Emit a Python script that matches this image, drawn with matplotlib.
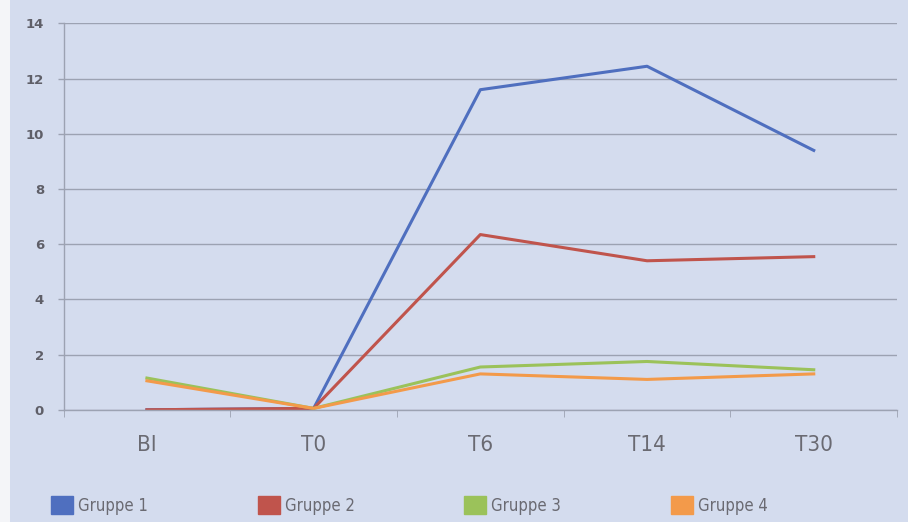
import matplotlib.pyplot as plt
from matplotlib.patches import Patch

# Data
zeitpunkte = ["BI", "T0", "T6", "T14", "T30"]
gruppe_1 = [0.0, 0.05, 11.6, 12.45, 9.4]
gruppe_2 = [0.0, 0.05, 6.35, 5.4, 5.55]
gruppe_3 = [1.15, 0.05, 1.55, 1.75, 1.45]
gruppe_4 = [1.05, 0.05, 1.3, 1.1, 1.3]

serien = [gruppe_1, gruppe_2, gruppe_3, gruppe_4]
namen = ["Gruppe 1", "Gruppe 2", "Gruppe 3", "Gruppe 4"]
farben = ["#4f6fbf", "#c0544c", "#9bc25a", "#f39a4a"]

bg = "#d4dcee"
schrift = {"family": "DejaVu Sans", "stretch": "condensed"}

fig = plt.figure(figsize=(9.08, 5.22), dpi=100)
fig.patch.set_facecolor(bg)
ax = fig.add_axes([0.07, 0.215, 0.918, 0.74])
ax.set_facecolor(bg)

x = list(range(len(zeitpunkte)))
for werte, farbe, name in zip(serien, farben, namen):
    ax.plot(x, werte, color=farbe, linewidth=2.2, label=name)

ax.set_xlim(-0.5, 4.5)
ax.set_ylim(0, 14)
ax.set_yticks(range(0, 15, 2))
ax.yaxis.grid(True, color="#9ca2b2", linewidth=1.0)
ax.set_axisbelow(True)

ax.set_xticks(x)
ax.set_xticklabels(zeitpunkte, fontsize=16, color="#6a6a72", **schrift)
ax.tick_params(axis="x", length=0, pad=18)
ax.tick_params(axis="y", labelsize=9.5, colors="#5f5f68", length=4, width=1, color="#9ca2b2", pad=10)
for lab in ax.get_yticklabels():
    lab.set_fontweight("bold")

for s in ["top", "right"]:
    ax.spines[s].set_visible(False)
for s in ["left", "bottom"]:
    ax.spines[s].set_color("#9ca2b2")
    ax.spines[s].set_linewidth(1.0)

# minor marks between the categories on the x axis
ax.set_xticks([i + 0.5 for i in range(-1, 5)], minor=True)
ax.tick_params(axis="x", which="minor", length=5, color="#9ca2b2", direction="out")

handles = [Patch(facecolor=f, edgecolor=f) for f in farben]
fig.legend(handles, namen, loc="lower left", bbox_to_anchor=(0.04, -0.015), ncol=4,
           frameon=False, labelcolor="#6a6a72", columnspacing=6.6,
           handlelength=1.3, handleheight=1.3, handletextpad=0.3,
           prop={"family": "DejaVu Sans", "stretch": "condensed", "size": 12})

# white strip on the left edge of the photo
fig.patches.append(plt.Rectangle((0, 0), 0.011, 1, transform=fig.transFigure,
                                 facecolor="#f4f5f8", edgecolor="none"))

fig.savefig("out.png", dpi=100, facecolor=bg)
